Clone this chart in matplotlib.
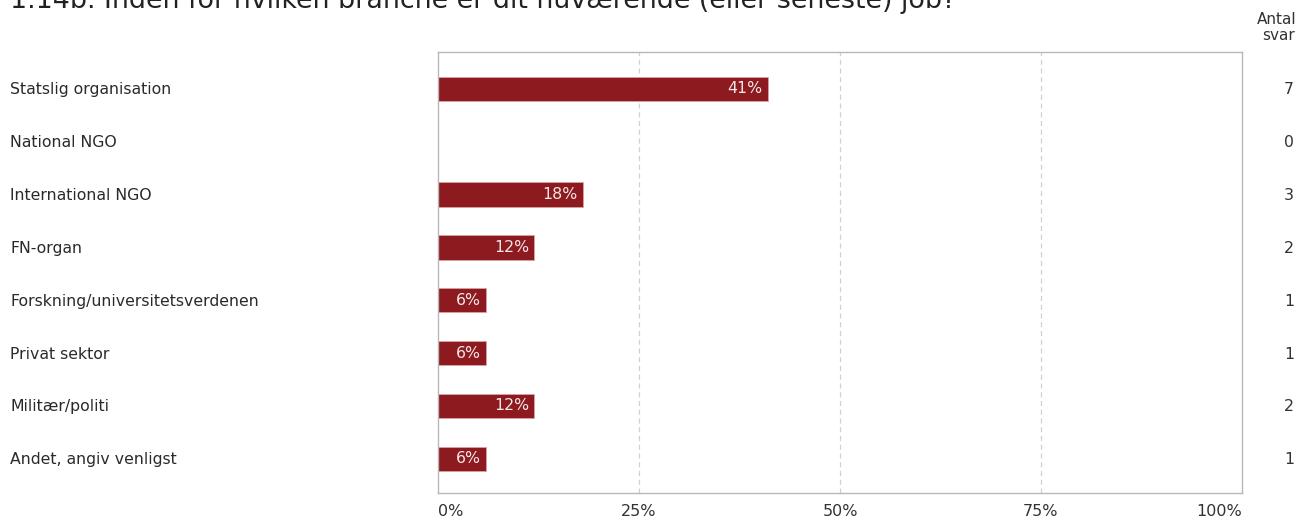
import matplotlib.pyplot as plt

# data
categories = ['Statslig organisation', 'National NGO', 'International NGO', 'FN-organ',
              'Forskning/universitetsverdenen', 'Privat sektor', 'Militær/politi',
              'Andet, angiv venligst']
percent = [41, 0, 18, 12, 6, 6, 12, 6]
counts = [7, 0, 3, 2, 1, 1, 2, 1]
xticks = [0, 25, 50, 75, 100]
title = '1.14b. Inden for hvilken branche er dit nuværende (eller seneste) job?'

W, H = 1309, 525
fig = plt.figure(figsize=(W / 100, H / 100), dpi=100)
ax = fig.add_axes([438 / W, 1 - 493 / H, (1242 - 438) / W, (493 - 52) / H])

bar_color = '#8c1a1f'
ypos = list(range(len(categories)))
ax.barh(ypos, percent, height=0.46, color=bar_color, edgecolor='#d9a3a5', linewidth=0.6)

for y, p in zip(ypos, percent):
    if p > 0:
        ax.annotate(f'{p}%', (p, y), xytext=(-4, 0), textcoords='offset points',
                    ha='right', va='center', color='#f3e6e6', fontsize=11.3)

ax.set_xlim(0, 100)
ax.set_ylim(len(categories) - 1 + 0.65, -0.7)
ax.set_xticks(xticks)
ax.set_xticklabels([])
ax.set_yticks([])
ax.tick_params(length=0)
for x in xticks[1:-1]:
    ax.axvline(x, color='#d0d0d0', linestyle=(0, (4, 3)), linewidth=0.9, zorder=0)
for s in ax.spines.values():
    s.set_color('#b8b8b8')
    s.set_linewidth(1.0)

# x tick labels (0% left aligned, 100% right aligned)
for x in xticks:
    ha = 'left' if x == 0 else ('right' if x == 100 else 'center')
    fig.text((438 + x / 100 * (1242 - 438)) / W, 1 - 512 / H, f'{x}%', ha=ha, va='center',
             fontsize=11.5, color='#333333')

# category labels on the left
for y, c in zip(ypos, categories):
    ax.annotate(c, (0, y), xycoords=('figure fraction', 'data'), xytext=(10, -1),
                textcoords='offset pixels', ha='left', va='center', fontsize=11.3, color='#2a2a2a')

# counts on the right
for y, n in zip(ypos, counts):
    ax.annotate(str(n), (1294 / W, y), xycoords=('figure fraction', 'data'), xytext=(0, -1),
                textcoords='offset pixels', ha='right', va='center', fontsize=11.3, color='#333333')

fig.text(1277 / W, 1 - 19 / H, 'Antal', ha='center', va='center', fontsize=11, color='#333333')
fig.text(1279 / W, 1 - 36 / H, 'svar', ha='center', va='center', fontsize=11, color='#333333')

# the title is cut at the top edge in the reference as well
fig.text(10 / W, 1 - 8 / H, title, ha='left', va='baseline', fontsize=19.4, color='#222222')

fig.savefig('out.png', dpi=100, facecolor='white')
